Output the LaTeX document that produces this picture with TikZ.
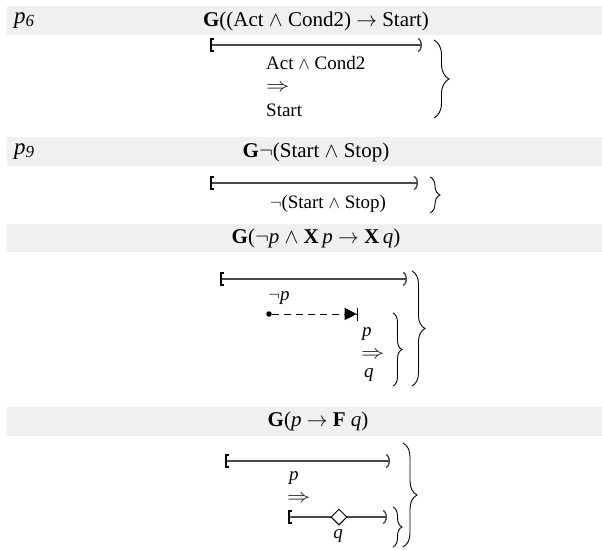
\documentclass[tikz,border=0pt]{standalone}
\usepackage{fontspec}
\setmainfont{Liberation Serif}
\usepackage{graphicx}
\usepackage{tikz}
\usetikzlibrary{arrows.meta,positioning,decorations.pathreplacing,shapes.geometric}
\definecolor{BandGray}{HTML}{F0F0F0}
\definecolor{LineGray}{HTML}{4A4A4A}
\newcommand{\impl}{\scalebox{1.35}[1.1]{$\Rightarrow$}}
\tikzset{
  % Header band
  band/.style={fill=BandGray,draw=none},
  % Header and label text
  hdr/.style={font=\fontsize{21}{24}\selectfont,inner sep=0pt},
  plbl/.style={font=\fontsize{23}{26}\selectfont,inner sep=0pt,anchor=west},
  % Body text
  txt/.style={font=\fontsize{19}{22}\selectfont,inner sep=0pt},
  % Interval  [----)
  ivl/.style={{Bracket[width=14pt,length=3pt,line width=2pt,color=black]}-{Arc Barb[width=15pt,length=5pt,arc=150,line width=1.4pt]},
              LineGray,line width=1.3pt},
  % Next step  o- - ->|
  nxt/.style={-{Triangle[length=12pt,width=12pt]Bar[width=13pt,line width=1.3pt]},
              dash pattern=on 7pt off 5pt,line width=1pt},
  % Event marker
  evt/.style={diamond,draw,fill=white,line width=1pt,minimum size=16pt,inner sep=0pt},
  % Start dot
  dot/.style={circle,fill,inner sep=0pt,minimum size=5.5pt},
  % Brace
  brc/.style={decorate,decoration={brace,amplitude=#1},line width=0.9pt}
}

\begin{document}
\begin{tikzpicture}[x=1pt,y=-1pt]
  \useasboundingbox (0,0) rectangle (602,549);

  %------ HEADER BANDS ------
  \fill[band] (7,6) rectangle (602,35);
  \fill[band] (7,137) rectangle (602,166);
  \fill[band] (7,224) rectangle (602,252);
  \fill[band] (7,407) rectangle (602,436);

  %------ P6 ------
  \node[plbl] (p6) at (14,21) {\textit{p}\raisebox{-0.2ex}{\fontsize{17}{17}\selectfont\textit{6}}};
  \node[hdr] (f6) at (316,21) {\textbf{G}((Act $\wedge$ Cond2) $\rightarrow$ Start)};
  \coordinate (a6) at (210,45);
  \coordinate (b6) at (422,45);
  \draw[ivl] (a6) -- (b6);
  \node[txt,anchor=west] (pre6) at (266,63) {Act $\wedge$ Cond2};
  \node[txt,anchor=west] (imp6) at (266,88) {\impl};
  \node[txt,anchor=west] (post6) at (266,110) {Start};
  \coordinate (u6) at (434,40);
  \coordinate (d6) at (434,118);
  \draw[brc=15pt] (u6) -- (d6);

  %------ P9 ------
  \node[plbl] (p9) at (14,152) {\textit{p}\raisebox{-0.2ex}{\fontsize{17}{17}\selectfont\textit{9}}};
  \node[hdr] (f9) at (316,152) {\textbf{G}$\neg$(Start $\wedge$ Stop)};
  \coordinate (a9) at (210,183);
  \coordinate (b9) at (418,183);
  \draw[ivl] (a9) -- (b9);
  \node[txt] (inv9) at (328,204) {$\neg$(Start $\wedge$ Stop)};
  \coordinate (u9) at (430,177);
  \coordinate (d9) at (430,213);
  \draw[brc=10pt] (u9) -- (d9);

  %------ NEXT PATTERN ------
  \node[hdr] (fx) at (316,238) {\textbf{G}($\neg$\textit{p} $\wedge$ \textbf{X}\,\textit{p} $\rightarrow$ \textbf{X}\,\textit{q})};
  \coordinate (ax) at (220,279);
  \coordinate (bx) at (407,279);
  \draw[ivl] (ax) -- (bx);
  \node[dot] (s) at (269,314) {};
  \node[txt] (np) at (279,298) {$\neg$\textit{p}};
  \coordinate (t) at (358,314);
  \draw[nxt] (s) -- (t);
  \node[txt,anchor=west] (px) at (362,334) {\textit{p}};
  \node[txt,anchor=west] (impx) at (361,355) {\impl};
  \node[txt,anchor=west] (qx) at (364,375) {\textit{q}};
  \coordinate (us) at (393,313);
  \coordinate (ds) at (393,386);
  \draw[brc=9pt] (us) -- (ds);
  \coordinate (ux) at (412,271);
  \coordinate (dx) at (412,386);
  \draw[brc=13pt] (ux) -- (dx);

  %------ EVENTUALLY PATTERN ------
  \node[hdr] (ff) at (318,421) {\textbf{G}(\textit{p} $\rightarrow$ \textbf{F} \textit{q})};
  \coordinate (af) at (225,461);
  \coordinate (bf) at (390,461);
  \draw[ivl] (af) -- (bf);
  \node[txt,anchor=west] (pf) at (289,478) {\textit{p}};
  \node[txt,anchor=west] (impf) at (287,499) {\impl};
  \coordinate (ag) at (288,517);
  \coordinate (bg) at (387,517);
  \draw[ivl] (ag) -- (bg);
  \node[evt] (e) at (339,517) {};
  \node[txt] (qf) at (338,536) {\textit{q}};
  \coordinate (ug) at (393,507);
  \coordinate (dg) at (393,547);
  \draw[brc=9pt] (ug) -- (dg);
  \coordinate (uf) at (403,443);
  \coordinate (df) at (403,547);
  \draw[brc=14pt] (uf) -- (df);
\end{tikzpicture}
\end{document}
